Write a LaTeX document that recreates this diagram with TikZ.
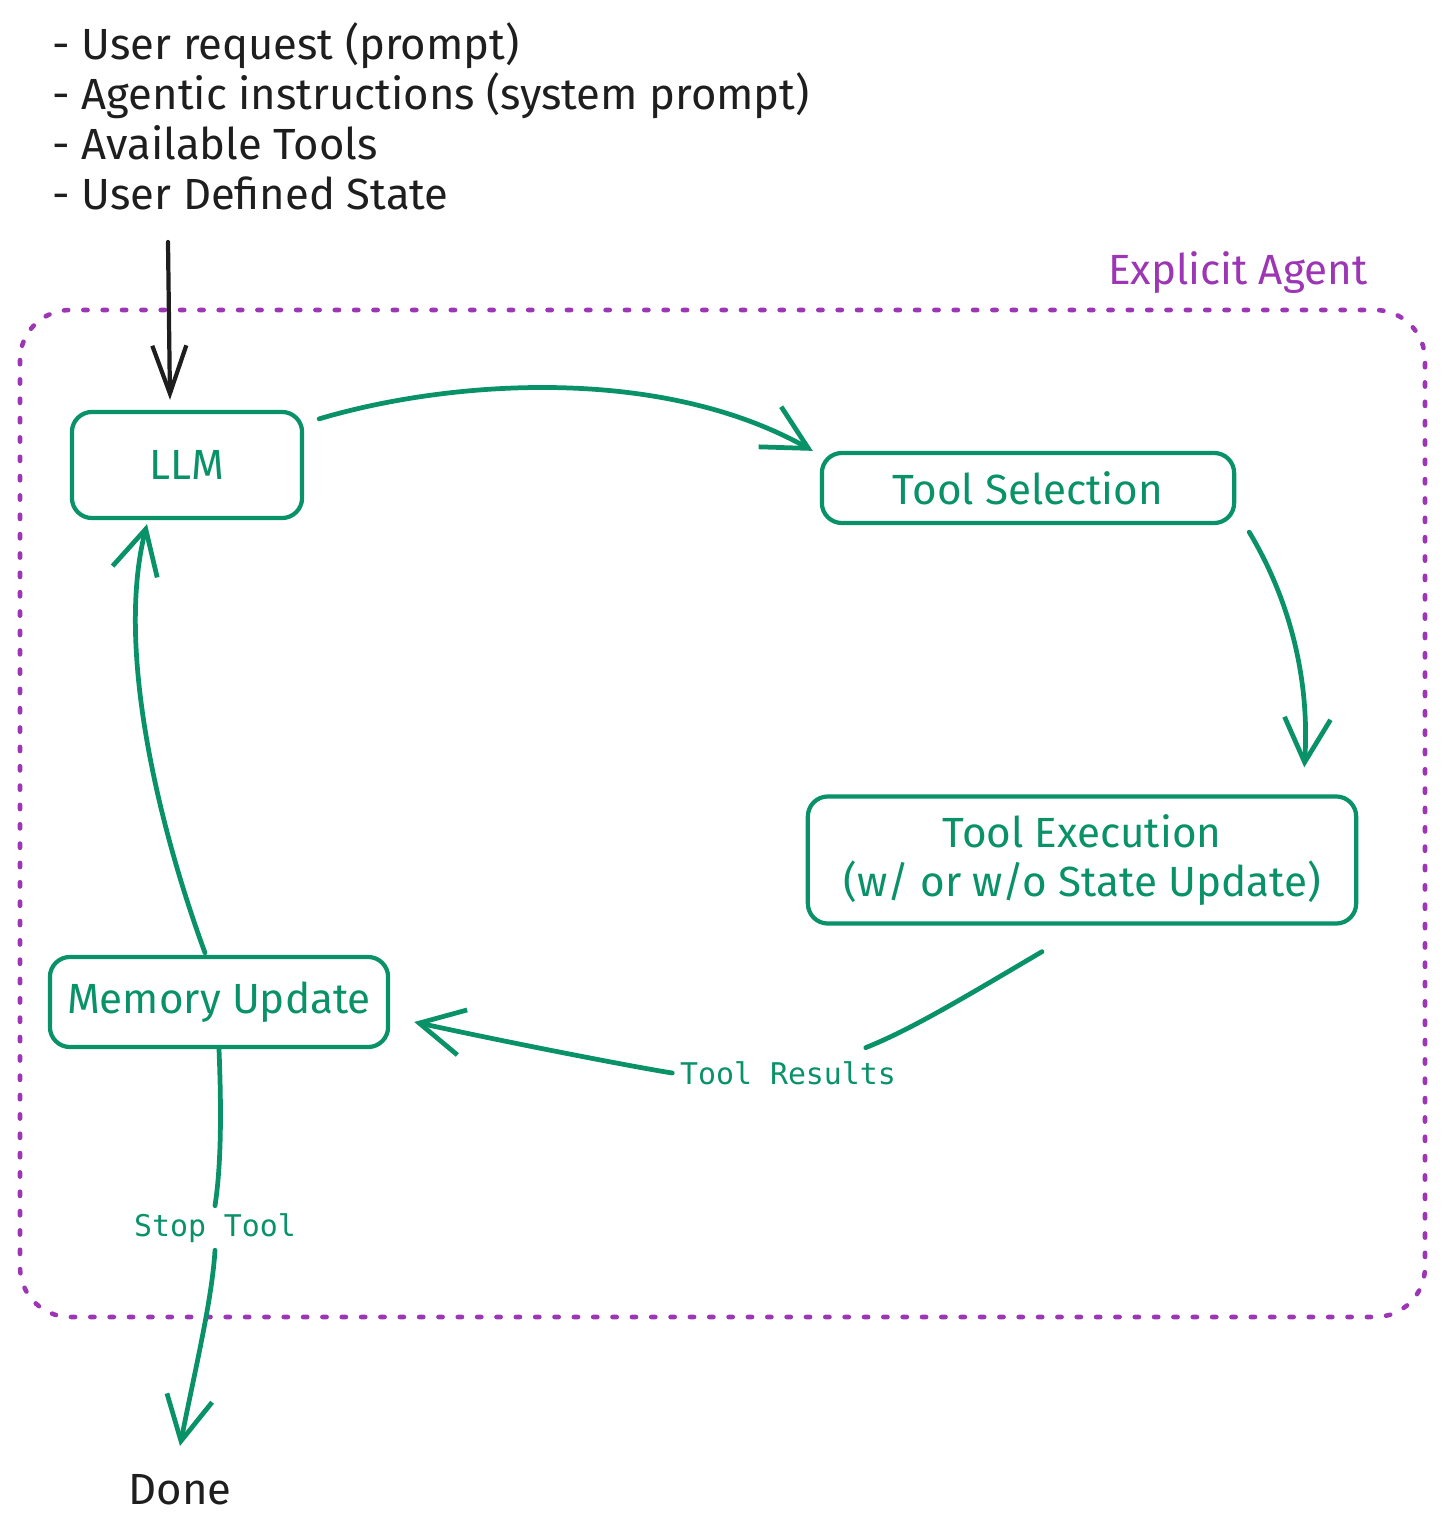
\documentclass[tikz,border=0pt]{standalone}
\usepackage{fontspec}
\setmainfont{Fira Sans}
\setmonofont{DejaVu Sans Mono}
\usetikzlibrary{arrows.meta}

\definecolor{flowgreen}{RGB}{9,146,104}
\definecolor{agentpurple}{RGB}{156,54,181}
\definecolor{inkblack}{RGB}{30,30,30}

\tikzset{
  stepbox/.style={draw=flowgreen, line width=1.2pt, rounded corners=0.2cm, text=flowgreen,
    font=\fontsize{12}{14.2}\selectfont, align=center, inner sep=0pt},
  flowline/.style={draw=flowgreen, line width=1.35pt, line cap=round},
  flow/.style={flowline, -{Straight Barb[length=4.4mm,width=4.6mm,line width=1.35pt]}},
  edgelabel/.style={text=flowgreen, font=\ttfamily\fontsize{8.5}{10}\selectfont, inner sep=2pt},
  plaintext/.style={text=inkblack, font=\fontsize{12.4}{14.2}\selectfont, inner sep=0pt}
}

\begin{document}
\begin{tikzpicture}[x=0.01cm, y=-0.01cm]
    \useasboundingbox (0,0) rectangle (1444,1537);

    % inputs to the agent
    \node[plaintext, align=left, anchor=north west] (inputs) at (52,22)
        {- User request (prompt)\\- Agentic instructions (system prompt)\\- Available Tools\\- User Defined State};

    % agent frame
    \draw[agentpurple, line width=1.3pt, line cap=round, dash pattern=on 1.2pt off 4.3pt,
          rounded corners=0.5cm] (20,310) rectangle (1425,1317);
    \node[text=agentpurple, font=\fontsize{12}{14}\selectfont, anchor=base east, inner sep=0pt]
        (agentname) at (1368,285) {Explicit Agent};

    % steps
    \node[stepbox, minimum width=2.3cm, minimum height=1.06cm] (llm) at (187,465) {LLM};
    \node[stepbox, minimum width=4.12cm, minimum height=0.7cm] (tsel) at (1028,488) {Tool Selection};
    \node[stepbox, minimum width=5.48cm, minimum height=1.27cm] (texec) at (1082,860)
        {Tool Execution\\(w/ or w/o State Update)};
    \node[stepbox, minimum width=3.38cm, minimum height=0.9cm] (mem) at (219,1002) {Memory Update};
    \node[plaintext] (done) at (180,1490) {Done};

    % labels on the connectors
    \node[edgelabel] (results) at (788,1073) {Tool Results};
    \node[edgelabel] (stop) at (215,1228) {Stop Tool};

    % input arrow
    \coordinate (src) at (168,242);
    \draw[inkblack, line width=1.2pt, line cap=round,
          -{Straight Barb[length=4.8mm,width=3.4mm,line width=1.2pt]}]
        (src) -- ([shift={(-17,-10)}]llm.north);

    % loop
    \draw[flow] ([shift={(15,9)}]llm.north east) .. controls (450,380) and (660,365) .. ([shift={(-7,0)}]tsel.north west);
    \draw[flow] ([shift={(13,7)}]tsel.south east) .. controls (1290,600) and (1310,680) .. ([shift={(-54,-27)}]texec.north east);
    \draw[flowline] ([shift={(-40,26)}]texec.south) .. controls (960,1000) and (910,1030) .. ([shift={(-38,-6)}]results.north east);
    \draw[flow] (results.west) .. controls (640,1068) and (520,1045) .. ([shift={(24,20)}]mem.east);
    \draw[flow] ([shift={(-14,-2)}]mem.north) .. controls (160,830) and (115,650) .. ([shift={(-40,4)}]llm.south);

    % exit
    \draw[flowline] (mem.south) .. controls (221,1100) and (222,1160) .. (stop.north);
    \draw[flow] (stop.south) .. controls (212,1300) and (195,1370) .. ([shift={(0,-28)}]done.north);
\end{tikzpicture}
\end{document}
